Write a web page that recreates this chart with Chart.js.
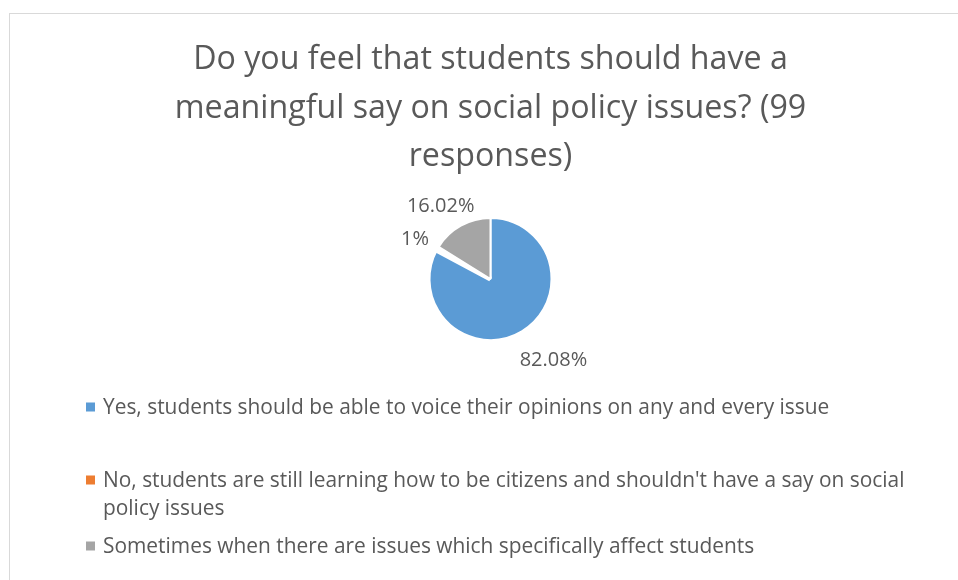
<!DOCTYPE html>
<html>
<head>
<meta charset="utf-8">
<script src="https://cdn.jsdelivr.net/npm/chart.js@4.4.1/dist/chart.umd.min.js"></script>
<style>
  html, body { margin: 0; padding: 0; background: #fff; overflow: hidden; width: 958px; height: 580px; }
  #frame { position: absolute; left: 9px; top: 13px; width: 961px; height: 600px; border: 1px solid #d9d9d9; }
  canvas { display: block; }
</style>
</head>
<body>
<div id="frame"><canvas id="c" width="961" height="566"></canvas></div>
<script>
// Survey answers (legend entries; the second one is pre-wrapped into two lines)
const categories = [
  "Yes, students should be able to voice their opinions on any and every issue",
  ["No, students are still learning how to be citizens and shouldn't have a say on social", "policy issues"],
  "Sometimes when there are issues which specifically affect students"
];
// Share of responses, in percent
const responseShares = [82.08, 1, 16.02];
const titleLines = [
  "Do you feel that students should have a",
  "meaningful say on social policy issues? (99",
  "responses)"
];
const sliceColors = ['#5B9BD5', '#ED7D31', '#A5A5A5'];

const TEXT = '#595959';
const FONT = '"Open Sans", sans-serif';

// Percent labels placed just outside each slice
const sliceLabels = {
  id: 'sliceLabels',
  afterDatasetsDraw(chart) {
    const ctx = chart.ctx;
    const meta = chart.getDatasetMeta(0);
    const values = chart.data.datasets[0].data;
    const size = 20;
    ctx.save();
    ctx.font = size + 'px ' + FONT;
    ctx.fillStyle = TEXT;
    ctx.textAlign = 'center';
    ctx.textBaseline = 'middle';
    meta.data.forEach((arc, i) => {
      const p = arc.getProps(['x', 'y', 'startAngle', 'endAngle', 'outerRadius'], true);
      const mid = (p.startAngle + p.endAngle) / 2;
      const dx = Math.cos(mid), dy = Math.sin(mid);
      const text = Number(values[i]) + '%';
      const w = ctx.measureText(text).width;
      const r = p.outerRadius + 18;
      const cx = p.x + r * dx + dx * w / 2 + 5;
      const cy = p.y + r * dy + dy * size / 2 + 5;
      ctx.fillText(text, cx, cy);
    });
    ctx.restore();
  }
};

// Vertical legend under the pie, square markers and multi-line entries
const stackedLegend = {
  id: 'stackedLegend',
  afterDraw(chart) {
    const ctx = chart.ctx;
    const ds = chart.data.datasets[0];
    const labels = chart.data.labels;
    const boxX = 76, textX = 93, box = 9, lineH = 28;
    const entryStep = [73, 66];
    let base = chart.chartArea.bottom + 71.5;
    ctx.save();
    ctx.font = '20.9px ' + FONT;
    ctx.textBaseline = 'alphabetic';
    ctx.textAlign = 'left';
    labels.forEach((lab, i) => {
      const lines = Array.isArray(lab) ? lab : [lab];
      ctx.fillStyle = ds.backgroundColor[i];
      ctx.fillRect(boxX, base - 7 - box / 2, box, box);
      ctx.fillStyle = TEXT;
      lines.forEach((ln, k) => ctx.fillText(ln, textX, base + k * lineH));
      base += entryStep[i] || 0;
    });
    ctx.restore();
  }
};

new Chart(document.getElementById('c'), {
  type: 'pie',
  data: {
    labels: categories,
    datasets: [{
      data: responseShares,
      backgroundColor: sliceColors,
      borderColor: '#ffffff',
      borderWidth: [2, 5, 2],
      hoverBorderWidth: [2, 5, 2],
      hoverOffset: 0
    }]
  },
  options: {
    responsive: false,
    animation: false,
    events: [],
    devicePixelRatio: 1,
    layout: { padding: { top: 0, left: 0, right: 0, bottom: 237.5 } },
    plugins: {
      legend: { display: false },
      tooltip: { enabled: false },
      title: {
        display: true,
        text: titleLines,
        color: TEXT,
        font: { family: FONT, size: 32.2, weight: 'normal', lineHeight: '48.5px' },
        padding: { top: 22, bottom: 34 }
      }
    }
  },
  plugins: [sliceLabels, stackedLegend]
});
</script>
</body>
</html>
